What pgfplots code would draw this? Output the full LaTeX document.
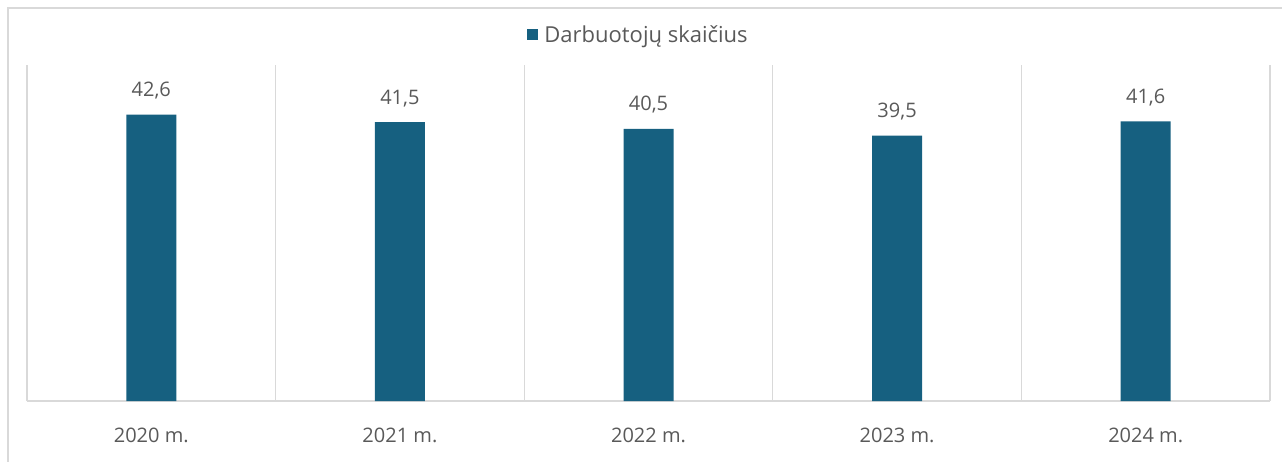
\documentclass[border=0pt]{standalone}
\usepackage{pgfplots}
\pgfplotsset{compat=1.18}
\usepackage{fontspec}
\setmainfont{Open Sans}
\definecolor{barblue}{RGB}{22,96,128}
\definecolor{txtgray}{RGB}{89,89,89}
\definecolor{lngray}{RGB}{217,217,217}
\begin{document}
\begin{tikzpicture}
\useasboundingbox (-20.25pt,-45pt) rectangle (941.25pt,300.75pt);
\begin{axis}[
  scale only axis, width=932.25pt, height=252pt,
  xmin=-0.5, xmax=4.5, ymin=0, ymax=50,
  axis x line*=bottom, axis y line=none,
  x axis line style={lngray, line width=0.9pt, -},
  xtick={0,1,2,3,4},
  xticklabels={2020 m.,2021 m.,2022 m.,2023 m.,2024 m.},
  minor xtick={-0.5,0.5,1.5,2.5,3.5,4.5},
  xminorgrids, minor grid style={lngray, line width=0.9pt},
  major tick length=0pt, minor tick length=0pt,
  xticklabel style={anchor=center, yshift=-25.5pt, font=\fontsize{15}{17}\selectfont, text=txtgray},
  ytick=\empty,
  /pgf/number format/assume math mode=true,
  ybar, bar width=37.5pt,
  nodes near coords={\pgfmathprintnumber[fixed,fixed zerofill,precision=1,use comma]{\pgfplotspointmeta}},
  every node near coord/.append style={anchor=center, yshift=18pt, font=\fontsize{15}{17}\selectfont, text=txtgray},
  legend style={at={(0.492,1.089)}, anchor=center, draw=none, fill=none,
    font=\fontsize{16.5}{18}\selectfont, text=txtgray},
  legend image code/.code={\fill[barblue] (0pt,-4pt) rectangle (8.25pt,4.25pt);},
  legend cell align=left,
  legend style={/tikz/every even column/.append style={column sep=0pt}},
  clip=false
]
\addplot[fill=barblue, draw=none] coordinates {(0,42.6) (1,41.5) (2,40.5) (3,39.5) (4,41.6)};
\addlegendentry{\hspace{3pt}Darbuotojų skaičius}
\end{axis}
\draw[lngray, line width=1.2pt] (-14.25pt,-60pt) -- (-14.25pt,294.75pt) -- (960pt,294.75pt);
\end{tikzpicture}
\end{document}
